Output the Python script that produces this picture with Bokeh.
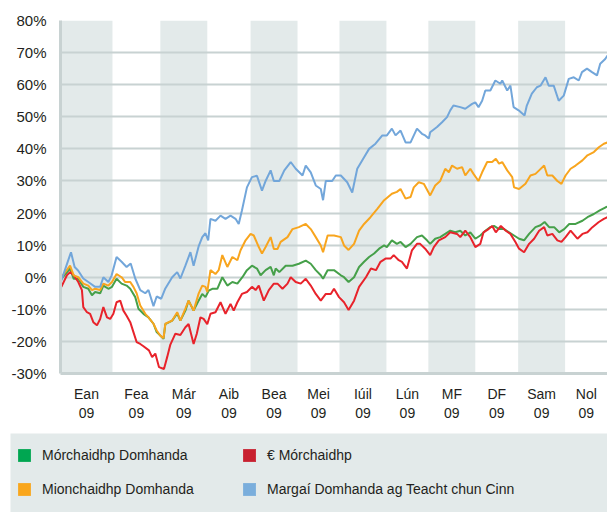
from bokeh.plotting import figure
from bokeh.models import FixedTicker, Legend, LegendItem, Range1d
from bokeh.layouts import column
from bokeh.embed import file_html
from bokeh.resources import INLINE

# ---------------- data ----------------
month_labels = ["Ean", "Fea", "Már", "Aib", "Bea", "Mei", "Iúil", "Lún", "MF", "DF", "Sam", "Nol"]
year_label = "09"
month_edges = [0, 1.14, 2.19, 3.22, 4.17, 5.20, 6.12, 7.15, 8.07, 9.10, 10.04, 11.07, 12.0]
y_ticks = [-30, -20, -10, 0, 10, 20, 30, 40, 50, 60, 70, 80]

names = ["Mórchaidhp Domhanda", "€ Mórchaidhp", "Mionchaidhp Domhanda",
         "Margaí Domhanda ag Teacht chun Cinn"]

blue_x = [0.02,0.23,0.31,0.39,0.50,0.61,0.76,0.87,0.94,1.05,1.12,1.23,1.34,1.45,1.54,1.64,1.75,1.86,1.93,2.04,
          2.11,2.21,2.30,2.45,2.56,2.63,2.74,2.85,2.92,3.03,3.11,3.18,3.24,3.29,3.40,3.51,3.62,3.73,3.84,3.91,
          3.98,4.09,4.20,4.31,4.42,4.50,4.61,4.68,4.80,4.91,5.05,5.16,5.31,5.38,5.49,5.60,5.71,5.76,5.82,5.96,
          6.04,6.15,6.29,6.40,6.51,6.66,6.77,6.91,7.06,7.16,7.27,7.35,7.46,7.57,7.68,7.82,7.93,8.00,8.08,8.11,
          8.26,8.37,8.48,8.55,8.62,8.77,8.88,9.03,9.10,9.17,9.25,9.32,9.43,9.54,9.65,9.69,9.80,9.87,9.94,10.05,
          10.18,10.23,10.34,10.45,10.53,10.64,10.71,10.82,10.93,11.04,11.15,11.26,11.37,11.44,11.55,11.66,11.77,11.84,11.95,12.00]
blue_y = [-1,7.8,3.2,2,-0.4,-1.5,-3,-3,0,-1.5,0.5,6.3,4.8,3.2,4.3,-0.4,-4,-5,-4,-9,
          -6,-6.7,-3.5,0,1.6,-0.4,3.6,7.8,3.6,9.6,12.5,13.7,11.5,18.2,17.6,19.2,18.2,19.2,18.2,16.6,
          20.8,28,31.2,31.6,27,30,33.3,30,30,33.3,35.9,33.8,31.7,34.8,32.7,28.6,27.5,24,30,30,
          31.7,31.7,29.6,26.4,33.8,37.4,40,41.6,44.2,44.2,46.3,44.2,45.7,42,42,46.3,44.7,44.2,43.2,45.2,
          46.8,48.3,49.9,52,53.5,53,52.5,54,54.5,53,55,58.2,58.2,61.3,60.3,61.3,58.2,59.7,53,52,
          50.4,53.5,57.2,59.2,59.7,62.3,59.7,59.7,55,56.6,61.8,62.3,61.3,63.9,65,63.9,62.9,66.5,68,69.1]

orange_x = [0.02,0.21,0.29,0.39,0.50,0.61,0.69,0.76,0.87,0.94,1.05,1.13,1.23,1.34,1.42,1.53,1.60,1.67,1.75,1.86,
            1.93,2.04,2.11,2.19,2.26,2.30,2.45,2.56,2.63,2.74,2.81,2.92,3.03,3.11,3.18,3.22,3.29,3.40,3.47,3.55,
            3.66,3.77,3.88,3.95,4.06,4.17,4.24,4.35,4.42,4.50,4.61,4.68,4.76,4.83,4.98,5.09,5.23,5.38,5.49,5.60,
            5.71,5.76,5.86,6.00,6.15,6.22,6.32,6.44,6.55,6.66,6.80,6.95,7.10,7.27,7.38,7.46,7.57,7.68,7.75,7.86,
            7.97,8.11,8.22,8.33,8.44,8.52,8.59,8.70,8.81,8.88,8.99,9.06,9.17,9.25,9.36,9.47,9.55,9.62,9.69,9.80,
            9.91,9.95,10.06,10.20,10.31,10.42,10.50,10.61,10.68,10.79,10.90,10.99,11.08,11.19,11.30,11.45,11.56,11.70,11.81,11.92,12.00]
orange_y = [0,3.6,0.6,0,-2,-2.6,-4,-3.6,-4,-2,-2.6,-1.5,1,0,-1.5,-1.5,-3,-5,-8.8,-11.4,
            -12.5,-14.5,-16.6,-18.2,-19,-14.5,-13.5,-10.9,-13.5,-9.8,-7.3,-10.4,-5.1,-2.6,-3,-4.6,2.2,1,2.2,6.9,
            3.2,6.3,5.3,8.4,11.5,13.5,13,9.4,7.4,9.4,12.5,8.8,8.8,11,12.5,15,15.6,16.6,15,12.5,
            9.9,7.8,13,13,12.5,9.9,8.5,10.4,14.5,16.6,18.7,21.3,24,26,26.6,27.5,24.5,25,28,29.6,
            29.1,25.5,28.6,30,33.8,32.7,34.8,33.8,34.3,31.7,33.8,32.2,30,32.7,35.9,35.9,36.9,35.4,35.9,33.3,
            31.2,28,27.5,29.1,31.7,32.2,33.3,34.8,31.7,31.7,30,29.1,31.7,33.8,34.8,36.4,38,39,40.5,41.6,42]

green_x = [0.02,0.21,0.29,0.39,0.50,0.61,0.69,0.76,0.87,0.94,1.05,1.13,1.23,1.34,1.45,1.53,1.64,1.71,1.82,1.93,
           2.04,2.11,2.19,2.26,2.30,2.45,2.56,2.63,2.74,2.81,2.92,3.03,3.11,3.18,3.25,3.33,3.44,3.55,3.66,3.77,
           3.88,3.99,4.09,4.20,4.31,4.39,4.50,4.61,4.68,4.72,4.80,4.94,5.09,5.23,5.38,5.49,5.60,5.71,5.76,5.86,
           6.00,6.15,6.22,6.32,6.44,6.55,6.66,6.77,6.88,6.99,7.10,7.16,7.27,7.38,7.46,7.57,7.68,7.82,7.93,8.04,
           8.11,8.22,8.33,8.44,8.55,8.66,8.77,8.88,8.99,9.10,9.21,9.32,9.43,9.51,9.62,9.73,9.84,9.95,10.06,10.17,
           10.28,10.42,10.53,10.62,10.72,10.83,10.94,11.05,11.16,11.30,11.45,11.56,11.70,11.83,11.96,12.00]
green_y = [-0.5,2.7,-0.5,-0.5,-3,-3.6,-5.6,-4.6,-5,-2.6,-3.6,-3,-0.5,-2,-2.6,-3.6,-6.2,-9.8,-11.4,-12.5,
           -14.5,-17.1,-18.2,-19.2,-14.6,-13.5,-11.3,-13.5,-10.4,-7.3,-10.4,-7.3,-5.2,-6.2,-4.2,-3.6,-3.6,0,-2.6,-1.5,
           -2,0,2.2,3.6,2.7,0.6,2.2,3.2,0.6,2.7,1.6,3.6,3.6,4.2,5.2,4.2,2.2,0.6,-0.5,2.2,
           2.2,0.6,0,-1.5,0,3.2,4.8,6.3,7.4,8.9,9.9,9.4,11.5,10.4,11,9.4,10.4,12.5,13,11.5,
           10.4,12,12.5,13.5,14.5,14,14.5,13,14,12,13,14.5,15.6,16,15,15,14,13,12,11.5,
           13.5,15.6,16.2,17.2,15.6,15.6,14,15,16.6,16.6,17.6,18.7,19.7,20.8,21.8,22]

red_x = [0.02,0.14,0.21,0.29,0.39,0.47,0.50,0.58,0.65,0.72,0.80,0.87,0.94,1.02,1.09,1.16,1.23,1.31,1.38,1.45,
         1.53,1.60,1.67,1.75,1.82,1.94,2.01,2.08,2.16,2.27,2.34,2.41,2.52,2.63,2.74,2.81,2.92,2.99,3.07,3.14,
         3.22,3.29,3.40,3.51,3.62,3.73,3.80,3.88,3.98,4.09,4.20,4.28,4.35,4.46,4.57,4.68,4.76,4.87,4.98,5.05,
         5.16,5.27,5.38,5.49,5.60,5.71,5.82,5.93,6.00,6.11,6.22,6.32,6.44,6.55,6.70,6.81,6.92,7.02,7.13,7.24,
         7.31,7.42,7.49,7.60,7.71,7.82,7.89,8.00,8.11,8.19,8.30,8.44,8.55,8.70,8.77,8.88,8.99,9.10,9.21,9.28,
         9.39,9.47,9.55,9.66,9.77,9.87,9.98,10.06,10.17,10.28,10.39,10.50,10.61,10.68,10.79,10.90,10.99,11.08,11.19,11.34,
         11.45,11.56,11.67,11.81,11.92,12.00]
red_y = [-3,0.6,1.6,0.6,-1.5,-4,-9.3,-10.9,-11.4,-14,-15,-13,-9.3,-12.5,-13,-11.4,-7.8,-7.3,-10.4,-12,
         -14,-17.1,-20.2,-20.8,-21.5,-22.8,-24.9,-23.8,-28,-28.6,-24.9,-21,-17.6,-18,-15.6,-14.6,-20.8,-17.6,-12.5,-13,
         -14.6,-11.4,-10.9,-7.8,-11.4,-8.3,-10.4,-7.8,-5.2,-4.6,-3,-4,-2.6,-7.3,-4,-2,-2,-3.6,-2,0,
         -1.5,-2,-0.5,-2.6,-5.2,-7.3,-5.2,-5.2,-3.6,-6.2,-7.8,-10.2,-7.3,-3,0,2.7,2.2,4.8,5.8,5.8,
         6.9,5.3,4.8,2.7,8.4,10.4,10.4,8.9,6.9,9.4,11.5,12.5,14,13.5,12.5,14.5,12.5,9.4,10.4,14,
         15,16,14,16,14.5,13.5,11,8.9,7.8,10.4,12,14.5,15.6,13,13.5,11.5,11,12.5,14.5,12,
         13.5,14,15.6,17.2,18.2,18.7]

# ---------------- styles ----------------
FONT = "Liberation Sans"
TXT = "#231f20"
BAND = "#e3eaea"
GRID = "#c8d2d2"
LINE_COL = {"green": "#46a04a", "red": "#e8232b", "orange": "#f8a51e", "blue": "#72a6da"}
KEY_COL = {"green": "#00a651", "red": "#c8202f", "orange": "#f9a61c", "blue": "#7aaedc"}

# ---------------- main chart ----------------
p = figure(width=607, height=433, output_backend="svg", toolbar_location=None, tools="",
           x_range=Range1d(month_edges[0], month_edges[-1]),
           y_range=Range1d(y_ticks[0], y_ticks[-1]),
           min_border_left=60, min_border_right=0, min_border_top=20, min_border_bottom=60)
p.frame_align = False
p.outline_line_color = None
p.background_fill_color = "white"
p.border_fill_color = "white"

bands = p.quad(left=month_edges[0:12:2], right=month_edges[1:13:2],
               bottom=y_ticks[0], top=y_ticks[-1], fill_color=BAND, line_color=None)
bands.level = "image"

p.xgrid.visible = False
p.ygrid.ticker = FixedTicker(ticks=y_ticks)
p.ygrid.grid_line_color = GRID
p.ygrid.grid_line_width = 2

mids = [(month_edges[i] + month_edges[i + 1]) / 2 for i in range(12)]
p.xaxis.ticker = FixedTicker(ticks=mids)
p.xaxis.major_label_overrides = {m: f"{lab}\n{year_label}" for m, lab in zip(mids, month_labels)}
p.yaxis.ticker = FixedTicker(ticks=y_ticks)
p.yaxis.major_label_overrides = {t: f"{t}%" for t in y_ticks}

for ax in (p.xaxis[0], p.yaxis[0]):
    ax.axis_line_color = GRID
    ax.axis_line_width = 3
    ax.major_tick_line_color = None
    ax.minor_tick_line_color = None
    ax.major_label_text_font = FONT
    ax.major_label_text_color = TXT
p.yaxis.major_label_text_font_size = "15px"
p.yaxis.major_label_standoff = 8
p.xaxis.major_label_text_font_size = "14px"
p.xaxis.major_label_standoff = 6

p.line(green_x, green_y, line_color=LINE_COL["green"], line_width=2)
p.line(red_x, red_y, line_color=LINE_COL["red"], line_width=2)
p.line(orange_x, orange_y, line_color=LINE_COL["orange"], line_width=2)
p.line(blue_x, blue_y, line_color=LINE_COL["blue"], line_width=2)

# ---------------- legend panel ----------------
q = figure(width=597, height=79, output_backend="svg", toolbar_location=None, tools="",
           x_range=Range1d(0, 1), y_range=Range1d(0, 1), min_border=0,
           x_axis_location=None, y_axis_location=None)
q.frame_align = False
q.margin = (0, 0, 0, 10)
q.grid.visible = False
q.outline_line_color = None
q.background_fill_color = BAND
q.border_fill_color = BAND

keys = {}
for k in ["green", "red", "orange", "blue"]:
    # one off-screen square per series, so the legend has a key to draw
    keys[k] = q.quad(left=[2], right=[3], top=[3], bottom=[2], fill_color=KEY_COL[k], line_color=None)

def make_legend(items, x):
    return Legend(items=items, location=(x, 15), border_line_color=None, background_fill_alpha=0,
                  padding=0, margin=0, spacing=18, glyph_width=16, glyph_height=16,
                  label_standoff=10, label_height=16, label_text_font=FONT,
                  label_text_font_size="14px", label_text_color=TXT)

leg1 = make_legend([LegendItem(label=names[0], renderers=[keys["green"]]),
                    LegendItem(label=names[2], renderers=[keys["orange"]])], 6)
leg2 = make_legend([LegendItem(label=names[1], renderers=[keys["red"]]),
                    LegendItem(label=names[3], renderers=[keys["blue"]])], 231)
q.add_layout(leg1)
q.add_layout(leg2)

layout = column(p, q, spacing=0)
open("out.html", "w").write(file_html(layout, INLINE))
